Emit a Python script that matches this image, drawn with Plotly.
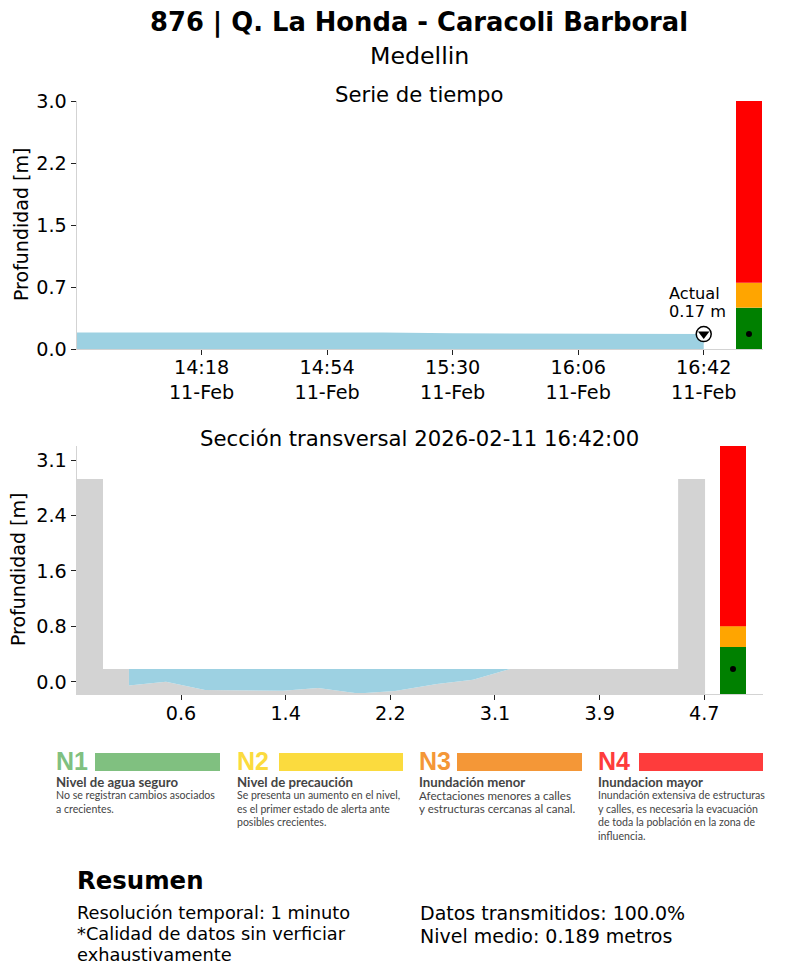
import plotly.graph_objects as go

W, H = 812, 973

# ---- data ----
title = "876 | Q. La Honda - Caracoli Barboral"
subtitle = "Medellin"
times = ["2026-02-11 13:42", "2026-02-11 14:18", "2026-02-11 14:54", "2026-02-11 15:10",
         "2026-02-11 15:30", "2026-02-11 16:06", "2026-02-11 16:42"]
depths = [0.2, 0.2, 0.2, 0.2, 0.19, 0.185, 0.18]
time_ticks = ["2026-02-11 14:18", "2026-02-11 14:54", "2026-02-11 15:30", "2026-02-11 16:06", "2026-02-11 16:42"]
time_labels = ["14:18<br>11-Feb", "14:54<br>11-Feb", "15:30<br>11-Feb", "16:06<br>11-Feb", "16:42<br>11-Feb"]
depth_ticks = [0, 0.75, 1.5, 2.25, 3.0]
depth_labels = ["0.0", "0.7", "1.5", "2.2", "3.0"]

sec_x = [-0.223, -0.011, -0.011, 0.192, 0.192, 0.482, 0.788, 1.399, 1.673, 1.963, 2.042, 2.277, 2.606, 2.888, 3.178, 4.495, 4.495, 4.706]
sec_y = [2.87, 2.87, 0.184, 0.184, -0.05, 0.004, -0.113, -0.123, -0.085, -0.156, -0.156, -0.127, -0.028, 0.032, 0.184, 0.184, 2.87, 2.87]
bed_x = [0.192, 0.482, 0.788, 1.399, 1.673, 1.963, 2.042, 2.277, 2.606, 2.888, 3.178]
bed_y = [-0.05, 0.004, -0.113, -0.123, -0.085, -0.156, -0.156, -0.127, -0.028, 0.032, 0.184]
water_level = 0.184
sec_floor = -0.17
sec_ticks = [0.6, 1.42, 2.24, 3.06, 3.88, 4.7]
sec_labels = ["0.6", "1.4", "2.2", "3.1", "3.9", "4.7"]
prof_ticks = [0, 0.785, 1.57, 2.355, 3.14]
prof_labels = ["0.0", "0.8", "1.6", "2.4", "3.1"]

gauge_colors = ["green", "orange", "red"]
gauge1_base = [0, 0.5, 0.8]
gauge1_height = [0.5, 0.3, 2.2]
gauge2_base = [-0.17, 0.495, 0.79]
gauge2_height = [0.665, 0.295, 2.55]

levels = ["N1", "N2", "N3", "N4"]
level_colors = ["#80c080", "#fbdb3e", "#f49737", "#fe3c3c"]
level_heads = ["Nivel de agua seguro", "Nivel de precaución", "Inundación menor", "Inundacion mayor"]
level_desc = [
    ["No se registran cambios asociados", "a crecientes."],
    ["Se presenta un aumento en el nivel,", "es el primer estado de alerta ante", "posibles crecientes."],
    ["Afectaciones menores a calles", "y estructuras cercanas al canal."],
    ["Inundación extensiva de estructuras", "y calles, es necesaria la evacuación", "de toda la población en la zona de", "influencia."],
]
level_desc_size = [10.6, 10.5, 11.6, 10.6]
level_text_x = [55, 236, 418, 597]
level_bar_x = [(95, 220), (279, 403), (457, 582), (639, 763)]

WATER = "#9dd1e2"
GROUND = "#d3d3d3"
AXIS = "#d3d3d3"
FONT = "DejaVu Sans"


def px(x):
    return x / W


def py(y):
    return 1 - y / H


fig = go.Figure()

# top: time series
fig.add_trace(go.Scatter(x=times, y=depths, mode="lines", line=dict(width=0), fill="tozeroy",
                         fillcolor=WATER, xaxis="x", yaxis="y", hoverinfo="skip"))
fig.add_trace(go.Scatter(x=times[-1:], y=depths[-1:], mode="markers", xaxis="x", yaxis="y",
                         marker=dict(symbol="circle", size=15, color="white", line=dict(color="black", width=1.5))))
fig.add_trace(go.Scatter(x=times[-1:], y=depths[-1:], mode="markers", xaxis="x", yaxis="y",
                         marker=dict(symbol="triangle-down", size=10, color="black")))
# top gauge
fig.add_trace(go.Bar(x=[0.5] * 3, y=gauge1_height, base=gauge1_base, width=1, marker=dict(color=gauge_colors, line=dict(width=0)),
                     xaxis="x3", yaxis="y"))
fig.add_trace(go.Scatter(x=[0.5], y=depths[-1:], mode="markers", marker=dict(color="black", size=6), xaxis="x3", yaxis="y"))

# bottom: section
fig.add_trace(go.Scatter(x=[sec_x[0], sec_x[-1]], y=[sec_floor, sec_floor], mode="lines", line=dict(width=0),
                         xaxis="x2", yaxis="y2", hoverinfo="skip"))
fig.add_trace(go.Scatter(x=sec_x, y=sec_y, mode="lines", line=dict(width=0), fill="tonexty", fillcolor=GROUND,
                         xaxis="x2", yaxis="y2", hoverinfo="skip"))
fig.add_trace(go.Scatter(x=bed_x, y=bed_y, mode="lines", line=dict(width=0), xaxis="x2", yaxis="y2", hoverinfo="skip"))
fig.add_trace(go.Scatter(x=[bed_x[0], bed_x[-1]], y=[water_level, water_level], mode="lines", line=dict(width=0),
                         fill="tonexty", fillcolor=WATER, xaxis="x2", yaxis="y2", hoverinfo="skip"))
# bottom gauge
fig.add_trace(go.Bar(x=[0.5] * 3, y=gauge2_height, base=gauge2_base, width=1, marker=dict(color=gauge_colors, line=dict(width=0)),
                     xaxis="x4", yaxis="y2"))
fig.add_trace(go.Scatter(x=[0.5], y=[water_level], mode="markers", marker=dict(color="black", size=6), xaxis="x4", yaxis="y2"))

axis_common = dict(automargin=False, showgrid=False, zeroline=False, showline=True, linecolor=AXIS, linewidth=1,
                   ticks="outside", ticklen=5, tickwidth=1, tickcolor="#222",
                   tickfont=dict(family=FONT, size=19.2, color="black"))

annotations = []


def text(x, y, s, size, bold=False, color="black", family=FONT, anchor="left", angle=0):
    annotations.append(dict(xref="paper", yref="paper", x=px(x), y=py(y), xanchor=anchor, yanchor="middle",
                            showarrow=False, align=anchor, borderpad=0, textangle=angle,
                            text=f"<b>{s}</b>" if bold else s, font=dict(family=family, size=size, color=color)))


text(419, 22, title, 25.8, bold=True, anchor="center")
text(419, 56, subtitle, 23.7, anchor="center")
text(419, 94, "Serie de tiempo", 21.2, anchor="center")
text(419, 439, "Sección transversal 2026-02-11 16:42:00", 21.2, anchor="center")
text(668, 293, "Actual", 16.2)
text(668, 311, "0.17 m", 16.2)
text(21, 225, "Profundidad [m]", 19, anchor="center", angle=-90)
text(18, 570, "Profundidad [m]", 19, anchor="center", angle=-90)

shapes = []
for i in range(4):
    text(level_text_x[i], 761, levels[i], 25, bold=True, color=level_colors[i], family="Liberation Sans")
    x0, x1 = level_bar_x[i]
    shapes.append(dict(type="rect", xref="paper", yref="paper", x0=px(x0), x1=px(x1), y0=py(771), y1=py(753),
                       fillcolor=level_colors[i], line=dict(width=0), layer="above"))
    text(level_text_x[i] - 0.5, 782, level_heads[i], 13.2, bold=True, color="#444", family="Lato")
    for j, line in enumerate(level_desc[i]):
        text(level_text_x[i] - 0.5, 795.3 + j * 13.5, line, level_desc_size[i], color="#444", family="Lato")

text(76, 880, "Resumen", 24.4, bold=True)
for y, s in [(912, "Resolución temporal: 1 minuto"), (933, "*Calidad de datos sin verficiar"), (954, "exhaustivamente")]:
    text(76, y, s, 17.8)
for y, s in [(913, "Datos transmitidos: 100.0%"), (936, "Nivel medio: 0.189 metros")]:
    text(419, y, s, 19)

fig.update_layout(
    width=W, height=H, margin=dict(l=0, r=0, t=0, b=0), showlegend=False, barmode="overlay",
    plot_bgcolor="white", paper_bgcolor="white", annotations=annotations, shapes=shapes,
    xaxis=dict(axis_common, domain=[px(76.6), px(763)], anchor="y", type="date", ticklabelstandoff=-4,
               range=["2026-02-11 13:42:10", "2026-02-11 16:59"], tickvals=time_ticks, ticktext=time_labels),
    yaxis=dict(axis_common, domain=[py(349), py(101)], anchor="x", range=[0, 3], tickvals=depth_ticks, ticktext=depth_labels),
    xaxis2=dict(axis_common, domain=[px(76.6), px(763)], anchor="y2", ticklabelstandoff=-3,
                range=[-0.218, 5.16], tickvals=sec_ticks, ticktext=sec_labels),
    yaxis2=dict(axis_common, domain=[py(694), py(446)], anchor="x2", range=[-0.17, 3.338], tickvals=prof_ticks, ticktext=prof_labels),
    xaxis3=dict(domain=[px(736), px(762)], anchor="y", range=[0, 1], visible=False),
    xaxis4=dict(domain=[px(720), px(746)], anchor="y2", range=[0, 1], visible=False),
)

fig.write_html("out.html", config=dict(displayModeBar=False),
               post_script="document.body.style.margin='0';")
